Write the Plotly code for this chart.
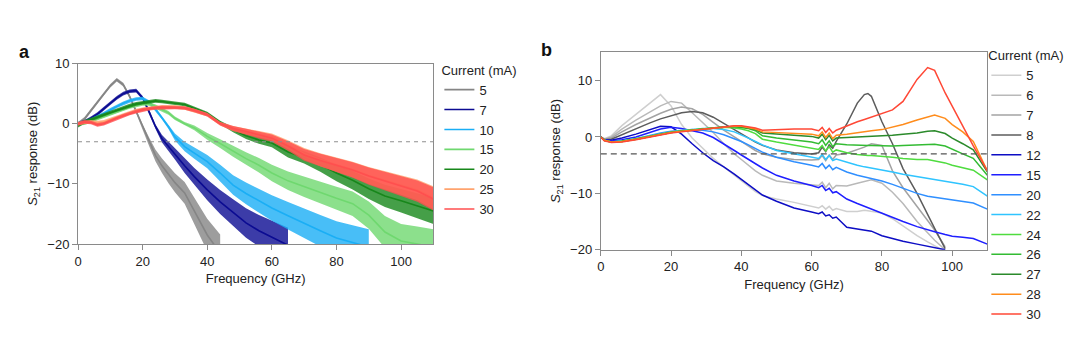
import plotly.graph_objects as go

# ---------------- Panel a data (S21 response, dB) ----------------
FREQ_A = [0, 2, 4, 6, 8, 10, 12, 14, 16, 18, 20, 22, 24, 26, 28, 30, 33, 36, 40, 44,
          48, 52, 56, 60, 65, 70, 75, 80, 85, 90, 95, 100, 105, 110]
A_5MA = [0, 0.8, 2.2, 3.6, 5.0, 6.3, 7.3, 6.5, 4.5, 2.0, -0.5, -3.0, -5.3, -7.0, -8.5, -9.8,
         -11.5, -14.5, -18.5, -21.5, None, None, None, None, None, None, None, None, None,
         None, None, None, None, None]
A_7MA = [0, 0.3, 0.9, 1.6, 2.5, 3.4, 4.3, 5.0, 5.4, 5.5, 4.3, 2.0, -0.5, -2.5, -3.8, -5.0,
         -7.0, -8.8, -11.0, -13.0, -14.8, -16.5, -17.8, -18.9, -20.2, None, None, None, None,
         None, None, None, None, None]
A_10MA = [0, 0.2, 0.6, 1.1, 1.7, 2.3, 2.9, 3.4, 3.8, 4.1, 4.2, 3.6, 2.4, 1.0, -0.5, -2.2,
          -3.8, -4.9, -6.3, -8.2, -10.2, -11.6, -12.8, -14.0, -15.3, -16.6, -17.8, -19.0,
          -19.8, -20.5, None, None, None, None]
A_15MA = [0, 0.1, 0.4, 0.8, 1.2, 1.6, 2.0, 2.4, 2.8, 3.1, 3.3, 3.3, 2.9, 2.3, 1.8, 0.9,
          0.0, -0.7, -2.1, -3.3, -4.6, -5.8, -6.9, -8.2, -9.5, -10.5, -11.5, -12.4, -13.3,
          -15.2, -18.0, -19.5, -20.0, -20.5]
A_20MA = [-0.3, 0.3, 0.7, 1.1, 1.5, 1.9, 2.3, 2.7, 3.0, 3.3, 3.5, 3.7, 3.8, 3.7, 3.6, 3.4,
          3.2, 2.6, 1.7, 0.2, -1.0, -2.0, -2.7, -3.2, -4.7, -5.6, -6.8, -8.2, -9.4, -10.8,
          -12.0, -12.8, -13.6, -14.5]
A_25MA = [0, 0.2, 0.3, 0.2, 0.3, 0.7, 1.1, 1.5, 1.9, 2.2, 2.4, 2.6, 2.7, 2.8, 2.8, 2.8,
          2.6, 2.2, 1.5, 0.0, -0.8, -1.3, -1.8, -2.2, -3.5, -5.0, -6.0, -6.8, -7.6, -8.6,
          -9.4, -10.2, -11.0, -12.3]
A_30MA = [0, 0.3, 0.2, -0.2, 0.0, 0.5, 0.9, 1.3, 1.7, 2.0, 2.3, 2.5, 2.6, 2.7, 2.7, 2.7,
          2.6, 2.2, 1.5, 0.0, -0.8, -1.3, -1.9, -2.4, -3.7, -5.2, -6.1, -6.9, -7.7, -8.7,
          -9.5, -10.4, -11.2, -12.5]
CURRENTS_A = ["5", "7", "10", "15", "20", "25", "30"]
SERIES_A = [A_5MA, A_7MA, A_10MA, A_15MA, A_20MA, A_25MA, A_30MA]
COLORS_A = ["#858585", "#0b0b92", "#1aaef5", "#6fd86f", "#17871a", "#ffa36e", "#ff4f4f"]

# ---------------- Panel b data (S21 response, dB) ----------------
FREQ_B = [0, 1, 3, 6, 10, 14, 17, 20, 23, 26, 29, 32, 35, 38, 40, 42, 44, 46, 50, 55, 60,
          62, 63, 64, 65, 66, 67, 70, 73, 75, 76, 77, 80, 83, 86, 90, 93, 95, 98, 100, 103,
          106, 110]
B_5MA = [0, -0.3, 0.2, 2.0, 4.0, 6.0, 7.5, 5.5, 2.2, -0.2, -2.0, -3.8, -5.3, -6.8, -7.8,
         -8.8, -9.7, -10.4, -11.0, -11.6, -12.3, -12.6, -12.2, -12.8, -12.3, -13.0, -12.7,
         -13.2, -13.2, -13.0, -13.1, -13.2, -13.5, -14.5, -15.8, -17.5, -18.6, -19.3, -20.3,
         None, None, None, None]
B_6MA = [0, -0.4, 0.0, 1.4, 3.0, 4.4, 5.5, 6.3, 6.0, 4.3, 2.5, 0.8, -1.2, -3.0, -4.0, -5.0,
         -6.0, -6.8, -7.8, -8.2, -8.4, -8.6, -8.0, -9.0, -8.2, -9.2, -8.6, -8.7, -8.2, -7.9,
         -7.7, -7.6, -8.2, -9.8, -11.8, -15.0, -17.0, -18.3, -20.0, None, None, None, None]
B_7MA = [0, -0.4, -0.2, 0.9, 2.2, 3.4, 4.2, 4.9, 5.3, 5.0, 4.0, 2.6, 1.2, 0.0, -0.8, -1.6,
         -2.4, -3.0, -3.6, -4.0, -4.1, -4.0, -3.3, -4.2, -3.2, -4.0, -3.2, -2.9, -2.3, -1.8,
         -1.5, -1.2, -1.5, -6.0, -9.0, -12.2, -14.8, -16.5, -19.5, None, None, None, None]
B_8MA = [0, -0.5, -0.4, 0.4, 1.5, 2.5, 3.2, 3.8, 4.3, 4.5, 4.3, 3.5, 2.4, 1.3, 0.6, -0.2,
         -0.9, -1.5, -2.3, -2.8, -3.0, -2.8, -1.8, -2.6, -1.4, -2.0, -0.8, 2.3, 6.0, 7.5,
         7.7, 7.2, 2.7, -1.2, -5.6, -10.0, -13.8, -16.2, -19.8, None, None, None, None]
B_12MA = [0, -0.5, -0.6, -0.2, 0.5, 1.3, 1.9, 1.8, 0.5, -1.2, -2.8, -4.2, -5.3, -6.6, -7.5,
          -8.4, -9.3, -10.3, -11.4, -12.6, -13.3, -13.6, -13.3, -14.0, -13.8, -14.4, -14.2,
          -16.0, -16.3, -16.5, -16.6, -16.7, -17.5, -18.0, -18.5, -19.0, -19.4, -19.7, -20.0,
          None, None, None, None]
B_15MA = [0, -0.5, -0.7, -0.5, 0.0, 0.8, 1.4, 1.7, 1.5, 1.1, 0.7, -0.1, -1.2, -2.4, -3.2,
          -4.0, -4.8, -5.5, -6.8, -7.8, -8.6, -9.0, -8.6, -9.5, -9.1, -9.9, -9.7, -11.0,
          -11.8, -12.3, -12.5, -12.7, -13.5, -14.2, -15.0, -15.9, -16.5, -16.8, -17.3, -17.6,
          -17.8, -18.0, -19.0]
B_20MA = [0, -0.6, -0.9, -0.7, -0.3, 0.3, 0.7, 1.0, 1.2, 1.3, 1.2, 0.9, 0.4, -0.3, -0.8,
          -1.4, -2.0, -2.7, -3.6, -4.4, -5.0, -5.3, -4.7, -5.6, -5.0, -5.8, -5.4, -6.2, -6.8,
          -7.1, -7.2, -7.3, -7.8, -8.4, -9.1, -10.0, -10.5, -10.7, -11.0, -11.2, -11.4,
          -11.7, -12.8]
B_22MA = [0, -0.6, -0.9, -0.7, -0.3, 0.2, 0.6, 0.9, 1.1, 1.3, 1.5, 1.5, 1.3, 0.9, 0.4,
          -0.2, -0.8, -1.4, -2.4, -3.0, -3.5, -3.8, -3.1, -4.0, -3.3, -4.2, -3.9, -4.5, -5.0,
          -5.3, -5.4, -5.5, -5.8, -6.2, -6.6, -7.0, -7.3, -7.5, -7.9, -8.1, -8.4, -8.8, -10.5]
B_24MA = [0, -0.6, -0.9, -0.7, -0.3, 0.2, 0.6, 0.9, 1.1, 1.3, 1.5, 1.6, 1.7, 1.6, 1.4,
          1.1, 0.6, -0.4, -0.9, -1.4, -1.9, -2.2, -1.5, -2.5, -1.7, -2.7, -2.3, -2.8, -3.1,
          -3.3, -3.3, -3.3, -3.4, -3.6, -3.8, -4.0, -4.0, -4.2, -4.6, -5.0, -5.4, -5.9, -7.6]
B_26MA = [0, -0.6, -0.9, -0.8, -0.4, 0.1, 0.5, 0.8, 1.0, 1.2, 1.4, 1.6, 1.8, 1.8, 1.7,
          1.5, 1.1, 0.2, -0.2, -0.5, -0.9, -1.2, -0.5, -1.5, -0.7, -1.7, -1.2, -1.4, -1.5,
          -1.5, -1.5, -1.5, -1.6, -1.6, -1.5, -1.4, -1.3, -1.3, -1.6, -2.2, -3.0, -3.8, -6.8]
B_27MA = [0, -0.6, -0.9, -0.8, -0.4, 0.1, 0.5, 0.8, 1.0, 1.2, 1.4, 1.6, 1.8, 1.9, 1.8,
          1.6, 1.3, 0.7, 0.5, 0.3, 0.1, -0.2, 0.5, -0.5, 0.3, -0.7, -0.2, -0.1, 0.0, 0.0,
          0.0, 0.0, 0.1, 0.3, 0.5, 0.7, 1.0, 1.1, 0.6, -0.2, -1.2, -2.3, -6.2]
B_28MA = [0, -0.6, -0.9, -0.8, -0.4, 0.1, 0.5, 0.8, 1.0, 1.2, 1.4, 1.6, 1.8, 1.9, 1.9,
          1.7, 1.4, 0.9, 0.8, 0.6, 0.5, 0.2, 0.9, -0.1, 0.7, -0.3, 0.3, 0.5, 0.8, 1.0, 1.0,
          1.1, 1.3, 1.7, 2.2, 3.0, 3.6, 3.9, 3.3, 2.2, 0.9, -0.8, -6.0]
B_30MA = [0, -0.7, -1.0, -0.9, -0.5, 0.0, 0.4, 0.7, 0.9, 1.1, 1.3, 1.6, 1.8, 2.0, 2.0,
          1.8, 1.6, 1.2, 1.3, 1.4, 1.4, 1.1, 1.7, 0.8, 1.5, 0.7, 1.2, 2.0, 2.7, 3.1, 3.3,
          3.5, 4.1, 4.8, 6.3, 10.2, 12.3, 11.8, 7.8, 5.4, 1.8, -1.6, -6.0]
CURRENTS_B = ["5", "6", "7", "8", "12", "15", "20", "22", "24", "26", "27", "28", "30"]
SERIES_B = [B_5MA, B_6MA, B_7MA, B_8MA, B_12MA, B_15MA, B_20MA, B_22MA, B_24MA, B_26MA,
            B_27MA, B_28MA, B_30MA]
COLORS_B = ["#cfcfcf", "#b9b9b9", "#a3a3a3", "#5c5c5c", "#0d0dc4", "#1f1fff", "#2f8fff",
            "#2fc4ff", "#4fdc3f", "#33bb33", "#2b8a2b", "#ff8c1c", "#ff4836"]

THRESHOLD_DB = -3
X_TICKS = [0, 20, 40, 60, 80, 100]
Y_TICKS = [-20, -10, 0, 10]

FONT = "Liberation Sans, Arial, sans-serif"
W, H = 1080, 361


def hex_rgba(h, a):
    h = h.lstrip("#")
    return "rgba(%d,%d,%d,%.2f)" % (int(h[0:2], 16), int(h[2:4], 16), int(h[4:6], 16), a)


fig = go.Figure()

# Panel a: noisy measurements drawn as a line plus a noise band
for cur, ys, col in zip(CURRENTS_A, SERIES_A, COLORS_A):
    pts = [(f, y) for f, y in zip(FREQ_A, ys) if y is not None]
    fx = [p[0] for p in pts]
    hw = [0.3 + 0.13 * max(0.0, -p[1]) for p in pts]
    up = [p[1] + h for p, h in zip(pts, hw)]
    lo = [p[1] - h for p, h in zip(pts, hw)]
    fig.add_trace(go.Scatter(x=fx + fx[::-1], y=up + lo[::-1], fill="toself",
                             fillcolor=hex_rgba(col, 0.8), line=dict(width=0),
                             mode="lines", showlegend=False, hoverinfo="skip",
                             xaxis="x", yaxis="y"))
    fig.add_trace(go.Scatter(x=FREQ_A, y=ys, mode="lines", name=cur,
                             line=dict(color=col, width=1.6),
                             xaxis="x", yaxis="y", legend="legend"))

# Panel b
for cur, ys, col in zip(CURRENTS_B, SERIES_B, COLORS_B):
    fig.add_trace(go.Scatter(x=FREQ_B, y=ys, mode="lines", name=cur,
                             line=dict(color=col, width=1.5),
                             xaxis="x2", yaxis="y2", legend="legend2"))

axis_common = dict(showgrid=False, zeroline=False, showline=True, linecolor="#8a8a8a",
                   linewidth=1, mirror=True, ticks="outside", ticklen=5, tickcolor="#8a8a8a",
                   tickfont=dict(family=FONT, size=13, color="#222"))

ytitle = "<i>S</i><sub>21</sub> response (dB)"

fig.update_layout(
    width=W, height=H, margin=dict(l=0, r=0, t=0, b=0),
    paper_bgcolor="white", plot_bgcolor="white",
    font=dict(family=FONT, size=13, color="#222"),
    xaxis=dict(domain=[74.3 / W, 431 / W], range=[0, 110], tickvals=X_TICKS, anchor="y",
               title=dict(text="Frequency (GHz)", font=dict(size=13), standoff=6),
               **axis_common),
    yaxis=dict(domain=[1 - 247.3 / H, 1 - 59 / H], range=[-20, 10], tickvals=Y_TICKS,
               anchor="x", title=dict(text=ytitle, font=dict(size=13), standoff=6),
               **axis_common),
    xaxis2=dict(domain=[599 / W, 987 / W], range=[0, 110], tickvals=X_TICKS, anchor="y2",
                title=dict(text="Frequency (GHz)", font=dict(size=13), standoff=6),
                **axis_common),
    yaxis2=dict(domain=[1 - 253.3 / H, 1 - 47.3 / H], range=[-20, 15], tickvals=Y_TICKS,
                anchor="x2", title=dict(text=ytitle, font=dict(size=13), standoff=6),
                **axis_common),
    legend=dict(x=437 / W, y=1 - 53 / H, xanchor="left", yanchor="top",
                title=dict(text="Current (mA)", font=dict(size=13)),
                font=dict(size=13), bgcolor="rgba(0,0,0,0)", borderwidth=0),
    legend2=dict(x=986 / W, y=1 - 38 / H, xanchor="left", yanchor="top",
                 title=dict(text="Current (mA)", font=dict(size=13)),
                 font=dict(size=13), bgcolor="rgba(0,0,0,0)", borderwidth=0),
    showlegend=True,
)

# -3 dB reference lines
fig.add_shape(type="line", xref="x domain", yref="y", x0=0, x1=1, y0=THRESHOLD_DB,
              y1=THRESHOLD_DB, line=dict(color="#8f8f8f", width=1.2, dash="4px,4px"))
fig.add_shape(type="line", xref="x2 domain", yref="y2", x0=0, x1=1, y0=THRESHOLD_DB,
              y1=THRESHOLD_DB, line=dict(color="#555555", width=1.2, dash="6px,4px"))

# Panel letters
fig.add_annotation(text="<b>a</b>", xref="paper", yref="paper", x=13 / W, y=1 - 47 / H,
                   xanchor="left", yanchor="middle", showarrow=False,
                   font=dict(size=18, color="#111"))
fig.add_annotation(text="<b>b</b>", xref="paper", yref="paper", x=537 / W, y=1 - 45 / H,
                   xanchor="left", yanchor="middle", showarrow=False,
                   font=dict(size=18, color="#111"))

fig.write_html("out.html", config={"displayModeBar": False},
               post_script="document.body.style.margin='0';document.body.style.overflow='hidden';")
